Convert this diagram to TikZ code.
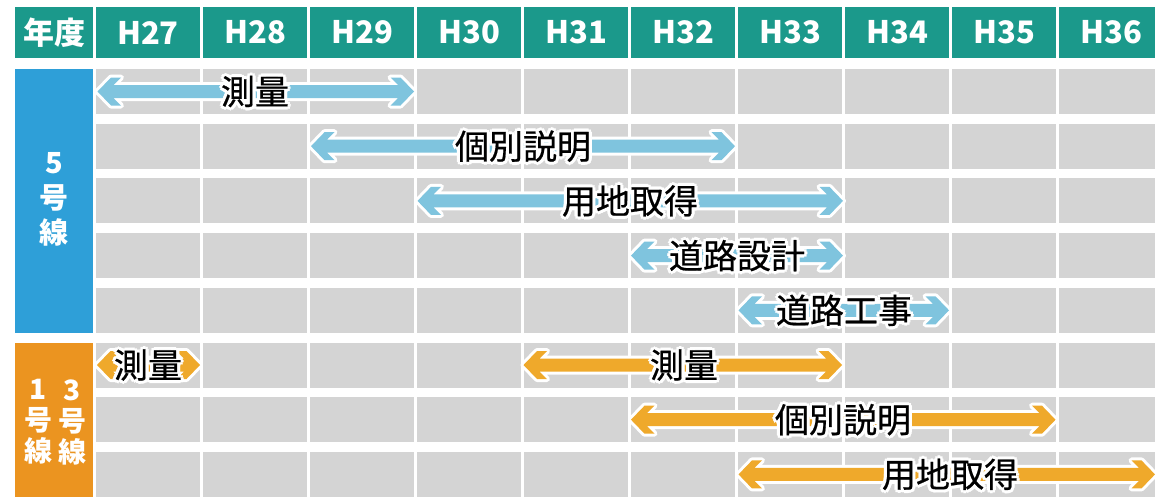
\documentclass[tikz,border=0pt]{standalone}
\usepackage{fontspec}
\setmainfont{Noto Sans CJK JP}
\newfontfamily\lblfont{Noto Sans CJK JP}[FakeBold=0.6]
\usepackage{xcolor}
\usepackage{tikz}
\usetikzlibrary{positioning}

\definecolor{hdrteal}{HTML}{1B998B}
\definecolor{line5}{HTML}{2E9FD8}
\definecolor{line13}{HTML}{EB9420}
\definecolor{cellgray}{HTML}{D4D4D4}
\definecolor{barblue}{HTML}{7FC4DE}
\definecolor{barorange}{HTML}{EFA92B}

% white halo round a label
\newcommand\haloat[3]{\rlap{\kern#1\raisebox{#2}{\textcolor{white}{#3}}}}
\newcommand\halo[1]{%
  \haloat{3.2pt}{0pt}{#1}\haloat{-3.2pt}{0pt}{#1}%
  \haloat{0pt}{3.2pt}{#1}\haloat{0pt}{-3.2pt}{#1}%
  \haloat{2.3pt}{2.3pt}{#1}\haloat{-2.3pt}{2.3pt}{#1}%
  \haloat{2.3pt}{-2.3pt}{#1}\haloat{-2.3pt}{-2.3pt}{#1}%
  #1}

% double-headed bar: style, left tip, right tip, centre height
\newcommand\gbar[4]{%
  \path[#1] (#2,#4) -- ++(13.5,-14) -- ++(10,0) -- ++(-7.5,7.5)
    -- (#3-16,#4-6.5) -- ++(-7.5,-7.5) -- ++(10,0) -- (#3,#4)
    -- ++(-13.5,14) -- ++(-10,0) -- ++(7.5,-7.5)
    -- (#2+16,#4+6.5) -- ++(7.5,7.5) -- ++(-10,0) -- cycle;}

\begin{document}
\begin{tikzpicture}[x=1pt, y=-1pt,
    every node/.style={inner sep=0pt},
    hdr/.style={rectangle, fill=hdrteal, text=white, minimum width=104pt,
      minimum height=51pt, font=\bfseries\fontsize{31}{31}\selectfont},
    cell/.style={fill=cellgray},
    side/.style={text=white, align=center, font=\bfseries\fontsize{29}{35}\selectfont},
    side13/.style={text=white, align=center, font=\bfseries\fontsize{28}{31}\selectfont},
    bluebar/.style={fill=barblue, preaction={draw=white, line width=6pt, line join=round}},
    orangebar/.style={fill=barorange, preaction={draw=white, line width=6pt, line join=round}},
    lbl/.style={font=\lblfont\fontsize{34}{34}\selectfont},
  ]
  \useasboundingbox (0,0) rectangle (1155,496);
  \clip (0,0) rectangle (1155,496);

  % Header
  \node[hdr, minimum width=78pt] (nendo) at (54,32.5) {年度};
  \node[hdr] (h27) at (148,32.5)  {H27};
  \node[hdr] (h28) at (255,32.5)  {H28};
  \node[hdr] (h29) at (362,32.5)  {H29};
  \node[hdr] (h30) at (469,32.5)  {H30};
  \node[hdr] (h31) at (576,32.5)  {H31};
  \node[hdr] (h32) at (683,32.5)  {H32};
  \node[hdr] (h33) at (790,32.5)  {H33};
  \node[hdr] (h34) at (897,32.5)  {H34};
  \node[hdr] (h35) at (1004,32.5) {H35};
  \node[hdr] (h36) at (1111,32.5) {H36};

  % Side blocks
  \fill[line5] (15,69) rectangle (93,333);
  \fill[line13] (15,343) rectangle (93,500);
  \node[side] (l5) at (54,199) {5\\号\\線};
  \node[side13] (l13a) at (38,422) {1\\号\\線};
  \node[side13] (l13b) at (72,422) {3\\号\\線};

  % Grid
  \foreach \c in {0,...,9}
    \foreach \r in {0,...,7}
      \fill[cell] (96+107*\c,69+54.7*\r) rectangle ++(104,45);

  % 5号線 bars
  \gbar{bluebar}{97.5}{414}{91.5}
  \gbar{bluebar}{311}{735}{146.2}
  \gbar{bluebar}{417.5}{843}{200.9}
  \gbar{bluebar}{631}{843}{255.6}
  \gbar{bluebar}{738.5}{949}{310.3}

  % 13号線 bars
  \gbar{orangebar}{97}{200}{365}
  \gbar{orangebar}{523.5}{842}{365}
  \gbar{orangebar}{631}{1055.5}{419.7}
  \gbar{orangebar}{738.5}{1155}{474.4}

  % Labels
  \node[lbl] (sokuryo5) at (255,91.5)   {\halo{測量}};
  \node[lbl] (setsumei5) at (523,146.2) {\halo{個別説明}};
  \node[lbl] (yochi5) at (630,200.9)    {\halo{用地取得}};
  \node[lbl] (sekkei5) at (737,255.6)   {\halo{道路設計}};
  \node[lbl] (koji5) at (844,310.3)     {\halo{道路工事}};
  \node[lbl] (sokuryo13a) at (148,365)  {\halo{測量}};
  \node[lbl] (sokuryo13b) at (684,365)  {\halo{測量}};
  \node[lbl] (setsumei13) at (843,419.7) {\halo{個別説明}};
  \node[lbl] (yochi13) at (950,474.4)   {\halo{用地取得}};

\end{tikzpicture}
\end{document}
